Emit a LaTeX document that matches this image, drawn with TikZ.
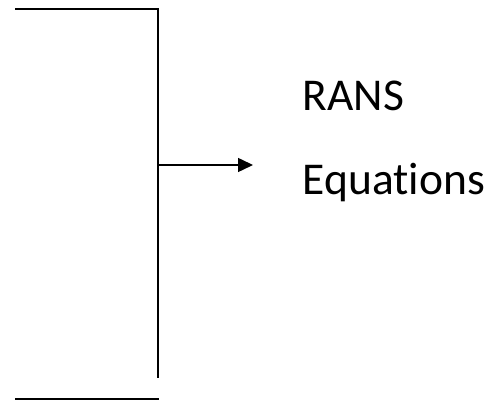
\documentclass[tikz,border=0pt]{standalone}
\usepackage{fontspec}
\setmainfont{Carlito}[Ligatures=NoCommon]
\usetikzlibrary{arrows.meta}

\begin{document}
\begin{tikzpicture}[x=1pt,y=-1pt,line width=1.8pt,
    lbl/.style={anchor=base west,inner sep=0pt,font=\fontsize{45.5}{50}\selectfont}]
    \useasboundingbox (0,0) rectangle (498,403);
    \coordinate (top) at (15,9);
    \coordinate (corner) at (158,9);
    \coordinate (foot) at (158,378);
    \coordinate (mid) at (158,165);
    \coordinate (tip) at (253,165);
    \coordinate (bl) at (15,399);
    \coordinate (br) at (159,399);
    \draw (top) -- (corner) -- (foot);
    \draw (bl) -- (br);
    \draw[line width=1.5pt,-{Triangle[length=15pt,width=14pt]}] (mid) -- (tip);
    \node[lbl] (rans) at (302,111) {RANS};
    \node[lbl] (eqs) at (302,195) {Equations};
  \end{tikzpicture}
\end{document}
